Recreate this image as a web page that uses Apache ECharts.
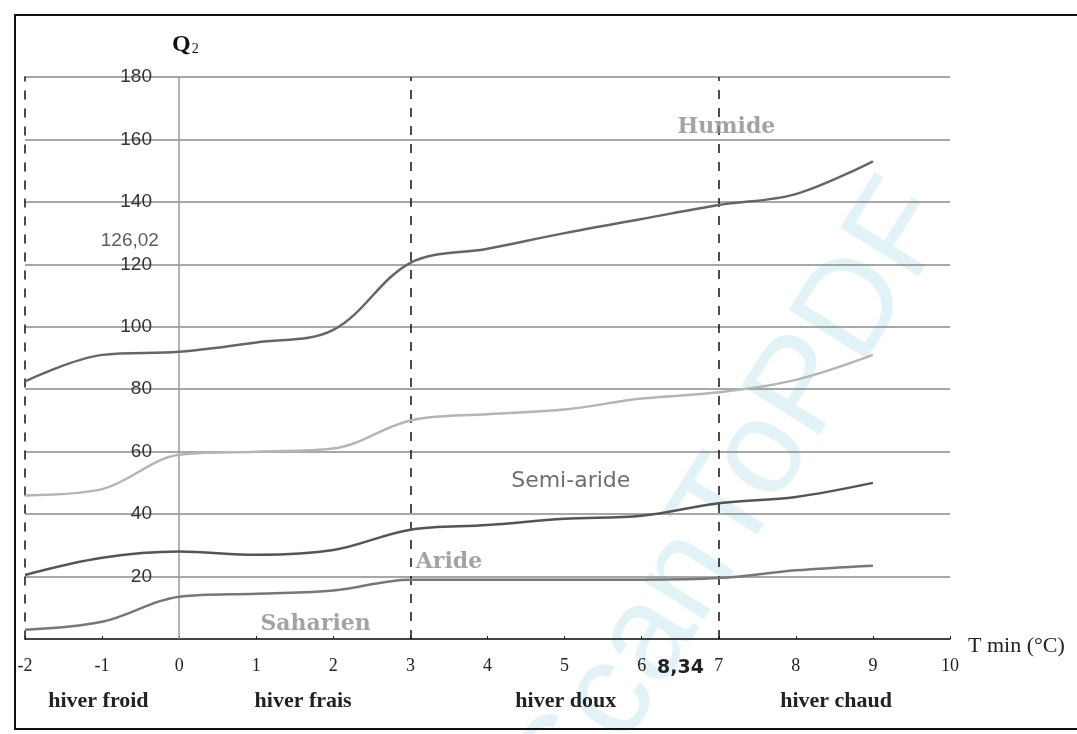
<!DOCTYPE html>
<html><head><meta charset="utf-8">
<script src="https://cdn.jsdelivr.net/npm/echarts@6/dist/echarts.min.js"></script>
<style>html,body{margin:0;padding:0;background:#fff}#c{width:1077px;height:734px}</style>
</head><body><div id="c"></div>
<script>
const tmin = [-2,-1,0,1,2,3,4,5,6,7,8,9];
const limitHumide = [82.5,91,92,95,99,120.5,125,130,134.5,139,142.5,153];
const limitSubHumide = [46,48,59,60,61,70,72,73.5,77,79,83,91];
const limitSemiAride = [20.5,26,28,27,28.5,35,36.5,38.5,39.5,43.5,45.5,50];
const limitAride = [3,5.5,13.5,14.5,15.5,19,19,19,19,19.5,22,23.5];
const yTicks = [0,20,40,60,80,100,120,140,160,180];
const zoneLabels = [
  {name:'Humide', x:7.1, y:164, serifStyle:true},
  {name:'Semi-aride', x:5.08, y:50.5, serifStyle:false},
  {name:'Aride', x:3.5, y:24.5, serifStyle:true},
  {name:'Saharien', x:1.77, y:4.6, serifStyle:true}
];
const winterLabels = ['hiver froid','hiver frais','hiver doux','hiver chaud'];
const winterCenters = [-1.05,1.6,5,8.5];

const chart = echarts.init(document.getElementById('c'));
const pair = arr => tmin.map((t,i)=>[t,arr[i]]);
function curve(name, arr, color){
  return {name, type:'line', data:pair(arr), smooth:0.35, symbol:'none',
    lineStyle:{color, width:2.5}, z:5};
}
const serif = 'Liberation Serif';
chart.setOption({
  animation:false,
  grid:{left:25, right:127, top:77, bottom:95},
  xAxis:{type:'value', min:-2, max:10, interval:1,
    axisLine:{show:true, onZero:false, lineStyle:{color:'#222', width:1.5}},
    axisTick:{show:true, length:3, inside:true, lineStyle:{color:'#222'}},
    splitLine:{show:false},
    axisLabel:{fontFamily:serif, fontSize:18, color:'#222', margin:18}
  },
  yAxis:{type:'value', min:0, max:180, interval:20,
    axisLine:{show:true, onZero:false, lineStyle:{color:'#111', type:[8,10], width:1.5}},
    axisTick:{show:false},
    splitLine:{show:true, lineStyle:{color:'#8a8a8a', width:1.5}},
    axisLabel:{inside:true, margin:127, align:'right', fontFamily:'Liberation Sans', fontSize:19, color:'#333',
      formatter:v => (v===0 || yTicks.indexOf(v)<0) ? '' : String(v)}
  },
  series:[
    curve('Humide', limitHumide, '#666'),
    curve('Sub-humide', limitSubHumide, '#b5b5b5'),
    curve('Semi-aride', limitSemiAride, '#555'),
    curve('Aride', limitAride, '#777'),
    {type:'line', data:[], markLine:{symbol:'none', silent:true,
      label:{show:false},
      data:[
        [{coord:[0,0], lineStyle:{color:'#9a9a9a', width:1.5, type:'solid'}},{coord:[0,180]}],
        [{coord:[3,0], lineStyle:{color:'#111', width:1.5, type:[9,9]}},{coord:[3,180]}],
        [{coord:[7,0], lineStyle:{color:'#111', width:1.5, type:[9,9]}},{coord:[7,180]}]
      ]}},
    {type:'scatter', symbolSize:0, z:6,
      data:zoneLabels.map(d=>({value:[d.x,d.y], name:d.name,
        label: d.serifStyle ? {fontFamily:'DejaVu Serif', fontWeight:'bold', fontSize:22, color:'#8c8c8c'}
                            : {fontFamily:'DejaVu Sans', fontWeight:'normal', fontSize:22, color:'#4a4a4a'}})),
      label:{show:true, position:'inside', formatter:p=>p.name}
    },
    {type:'scatter', symbolSize:0, z:6,
      data:[{value:[-0.64,127.5], name:'126,02'}],
      label:{show:true, position:'inside', formatter:p=>p.name, fontSize:19, color:'#333', fontFamily:'Liberation Sans'}
    }
  ],
  graphic:[
    {type:'text', x:735, y:500, rotation:Math.PI*58/180, z:-1, silent:true,
      style:{text:'ScanToPDF', font:'134px "Liberation Sans"', fill:'#e2f3f7', textAlign:'center', textVerticalAlign:'middle'}},
    {type:'rect', shape:{x:15, y:15, width:1080, height:714}, z:10, silent:true,
      style:{fill:'none', stroke:'#111', lineWidth:2}},
    {type:'text', x:172, y:33, z:10, style:{text:'{q|Q}{s|2}', rich:{q:{font:'bold 24px "Liberation Serif"', fill:'#111'}, s:{font:'14px "Liberation Serif"', fill:'#111', padding:[8,0,0,1]}}}},
    {type:'text', x:968, y:635, z:10, style:{text:'T min (°C)', font:'22px "Liberation Serif"', fill:'#222'}},
    {type:'text', x:657, y:659, z:10, style:{text:'8,34', font:'bold 19px "DejaVu Sans"', fill:'#222'}},
    ...winterLabels.map((t,i)=>({type:'text', z:10, x:25+(winterCenters[i]+2)*77.25, y:690,
      style:{text:t, font:'bold 22px "Liberation Serif"', fill:'#222', textAlign:'center'}}))
  ]
});
</script></body></html>
